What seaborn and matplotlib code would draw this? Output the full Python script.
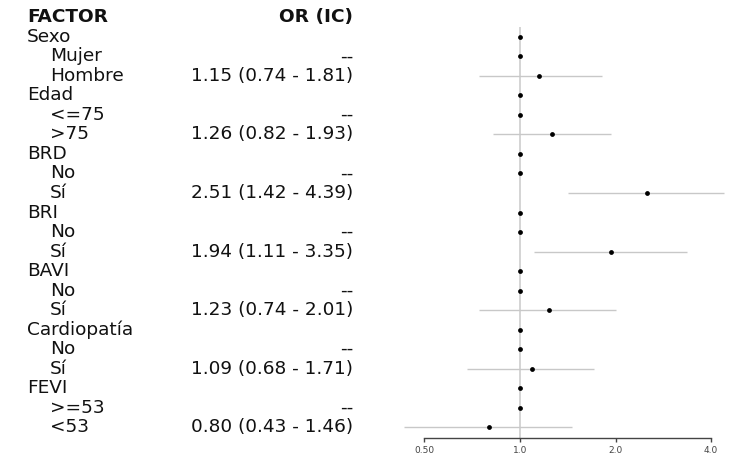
import pandas as pd
import matplotlib
matplotlib.use("Agg")
import matplotlib.pyplot as plt
import matplotlib.transforms as mtransforms
import seaborn as sns

# data
factors = ["Sexo", "Edad", "BRD", "BRI", "BAVI", "Cardiopatía", "FEVI"]
ref_levels = ["Mujer", "<=75", "No", "No", "No", "No", ">=53"]
cmp_levels = ["Hombre", ">75", "Sí", "Sí", "Sí", "Sí", "<53"]
or_vals = [1.15, 1.26, 2.51, 1.94, 1.23, 1.09, 0.80]
ci_low = [0.74, 0.82, 1.42, 1.11, 0.74, 0.68, 0.43]
ci_high = [1.81, 1.93, 4.39, 3.35, 2.01, 1.71, 1.46]
x_ticks = [0.5, 1.0, 2.0, 4.0]
x_tick_labels = ["0.50", "1.0", "2.0", "4.0"]

# one row per line of the table: header, reference level, compared level
rows = []
for i, f in enumerate(factors):
    rows.append(dict(label=f, indent=False, OR=1.0, lo=None, hi=None, txt=""))
    rows.append(dict(label=ref_levels[i], indent=True, OR=1.0, lo=None, hi=None, txt="--"))
    rows.append(dict(label=cmp_levels[i], indent=True, OR=or_vals[i], lo=ci_low[i], hi=ci_high[i],
                     txt=f"{or_vals[i]:.2f} ({ci_low[i]:.2f} - {ci_high[i]:.2f})"))
df = pd.DataFrame(rows)
df["row"] = range(len(df))

sns.set_style("white")
plt.rcParams["font.family"] = ["DejaVu Sans"]

W, H = 750, 469
fig = plt.figure(figsize=(7.5, 4.69), dpi=100)
# axes placed in pixel terms
left_px, right_px, top_px, bot_px = 395, 735, 27, 438
ax = fig.add_axes([left_px / W, 1 - bot_px / H, (right_px - left_px) / W, (bot_px - top_px) / H])

ax.set_xscale("log", base=2)
ax.set_xlim(0.4037, 4.76)
ax.set_ylim(20.56, -0.51)

# reference line at OR = 1
ax.axvline(1.0, color="#d4d4d4", lw=1.4, zorder=1)

ci = df.dropna(subset=["lo"])
ax.hlines(ci["row"], ci["lo"], ci["hi"], color="#c8c8c8", lw=1.0, zorder=2)

sns.scatterplot(data=df, x="OR", y="row", ax=ax, color="black", s=12,
                marker="o", edgecolor="black", linewidth=0, zorder=3, legend=False)

# axis styling
for s in ["top", "right", "left"]:
    ax.spines[s].set_visible(False)
ax.spines["bottom"].set_bounds(0.5, 4.0)
ax.spines["bottom"].set_color("#444444")
ax.spines["bottom"].set_linewidth(1.0)
ax.set_xticks(x_ticks)
ax.set_xticklabels(x_tick_labels)
ax.xaxis.set_minor_locator(matplotlib.ticker.NullLocator())
ax.tick_params(axis="x", bottom=True, direction="out", length=3, width=1.0, color="#444444",
               labelsize=6.5, labelcolor="#444444", pad=3)
ax.set_yticks([])
ax.set_xlabel("")
ax.set_ylabel("")

# table text on the left
trans = mtransforms.blended_transform_factory(fig.transFigure, ax.transData)
fs = 13.3
x_factor = 27 / W
x_level = 50 / W
x_or = 353 / W
header_row = (17 - 37) / 19.5
ax.text(x_factor, header_row, "FACTOR", transform=trans, ha="left", va="center",
        fontsize=fs, fontweight="bold", color="#111111", clip_on=False)
ax.text(x_or, header_row, "OR (IC)", transform=trans, ha="right", va="center",
        fontsize=fs, fontweight="bold", color="#111111", clip_on=False)
for _, r in df.iterrows():
    ax.text(x_level if r["indent"] else x_factor, r["row"], r["label"], transform=trans,
            ha="left", va="center", fontsize=fs, color="#111111", clip_on=False)
    if r["txt"]:
        ax.text(x_or, r["row"], r["txt"], transform=trans, ha="right", va="center",
                fontsize=fs, color="#111111", clip_on=False)

fig.savefig("out.png", dpi=100)
